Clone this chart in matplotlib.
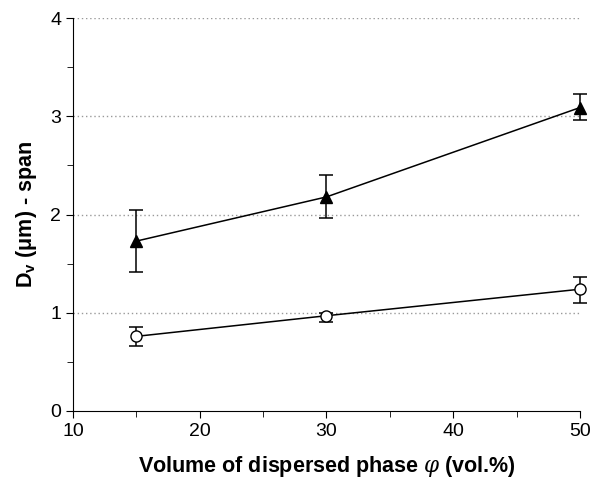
import matplotlib
matplotlib.use("Agg")
import matplotlib.pyplot as plt
from matplotlib.ticker import MultipleLocator
import numpy as np

plt.rcParams["font.family"] = ["Liberation Sans", "DejaVu Sans"]
plt.rcParams["mathtext.fontset"] = "custom"
plt.rcParams["mathtext.rm"] = "Liberation Sans"
plt.rcParams["mathtext.it"] = "DejaVu Serif:italic"
plt.rcParams["mathtext.bf"] = "Liberation Sans:bold"

# Data
phi = [15, 30, 50]
span_tri = [1.73, 2.18, 3.09]
tri_lo = [0.31, 0.21, 0.13]
tri_hi = [0.32, 0.22, 0.14]
span_circ = [0.76, 0.97, 1.24]
circ_lo = [0.10, 0.06, 0.14]
circ_hi = [0.10, 0.03, 0.12]

fig = plt.figure(figsize=(5.93, 4.79), dpi=100)
ax = fig.add_axes([0.123, 0.142, 0.855, 0.82])

ax.errorbar(phi, span_tri, yerr=[tri_lo, tri_hi], color="k", marker="^",
            markersize=9, mfc="k", mec="k", lw=1.1, elinewidth=1.1,
            capsize=5, capthick=1.1, zorder=3, clip_on=False)
ax.errorbar(phi, span_circ, yerr=[circ_lo, circ_hi], color="k", marker="o",
            markersize=8, mfc="white", mec="k", lw=1.1, elinewidth=1.1,
            capsize=5, capthick=1.1, zorder=3, clip_on=False)

ax.set_xlim(10, 50)
ax.set_ylim(0, 4)
ax.xaxis.set_major_locator(MultipleLocator(10))
ax.xaxis.set_minor_locator(MultipleLocator(5))
ax.yaxis.set_major_locator(MultipleLocator(1))
ax.yaxis.set_minor_locator(MultipleLocator(0.5))

for yv in [1, 2, 3, 4]:
    ax.axhline(yv, color="#999999", lw=1.0, ls=(0, (1, 2)), zorder=1)

ax.spines["top"].set_visible(False)
ax.spines["right"].set_visible(False)
ax.tick_params(which="both", direction="out", labelsize=14)
ax.tick_params(which="major", length=5)
ax.tick_params(which="minor", length=4)

ax.set_xlabel(r"Volume of dispersed phase $\varphi$ (vol.%)", fontsize=15.5,
              fontweight="bold", labelpad=10)
ax.set_ylabel(r"D$_\mathbf{v}$ ($\mathbf{\mu}$m) - span", fontsize=15.5,
              fontweight="bold", labelpad=8)

fig.savefig("out.png", dpi=100)
